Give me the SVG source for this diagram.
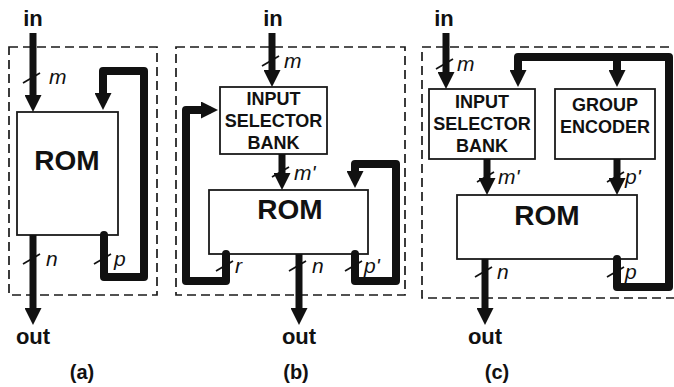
<svg xmlns="http://www.w3.org/2000/svg" width="674" height="387" viewBox="0 0 674 387">
  <style>
    .frame { fill: none; stroke: #1a1a1a; stroke-width: 1.7; stroke-dasharray: 9 5; }
    .box { fill: #ffffff; stroke: #1a1a1a; stroke-width: 1.8; }
    .bus { fill: none; stroke: #111111; stroke-width: 7; stroke-linejoin: round; }
    .loop { fill: none; stroke: #111111; stroke-width: 8; stroke-linejoin: round; stroke-linecap: round; }
    .tick { stroke: #111111; stroke-width: 1.7; }
    .title { font-family: "Liberation Sans", Arial, sans-serif; font-weight: bold; font-size: 28px; fill: #111111; text-anchor: middle; }
    .blk { font-family: "Liberation Sans", Arial, sans-serif; font-weight: bold; font-size: 18px; fill: #111111; text-anchor: middle; }
    .io { font-family: "Liberation Sans", Arial, sans-serif; font-weight: bold; font-size: 22px; fill: #111111; text-anchor: middle; }
    .cap { font-family: "Liberation Sans", Arial, sans-serif; font-weight: bold; font-size: 20px; fill: #111111; text-anchor: middle; }
    .w { font-family: "Liberation Sans", Arial, sans-serif; font-style: italic; font-size: 21px; fill: #111111; }
  </style>
  <defs>
    <marker id="head" viewBox="0 0 17 17" refX="7" refY="8.5" markerWidth="17" markerHeight="17" markerUnits="userSpaceOnUse" orient="auto">
      <path d="M0,0 L17,8.5 L0,17 Z" fill="#111111"/>
    </marker>
    <line id="slash" class="tick" x1="-10" y1="5" x2="7" y2="-5"/>
  </defs>

  <!-- panel (a) -->
  <g id="frame-a"><rect class="frame" x="9" y="47" width="148" height="248"/></g>
  <g id="rom-a">
    <rect class="box" x="17" y="112" width="101" height="123"/>
    <text class="title" x="67" y="170">ROM</text>
  </g>
  <g id="in-a"><text class="io" x="33" y="26">in</text></g>
  <g id="out-a"><text class="io" x="33" y="344">out</text></g>
  <g id="caption-a"><text class="cap" x="82" y="379">(a)</text></g>

  <!-- panel (b) -->
  <g id="frame-b"><rect class="frame" x="176" y="47" width="229" height="248"/></g>
  <g id="selector-b">
    <rect class="box" x="220" y="87" width="107" height="67"/>
    <text class="blk" x="273.5" y="105">INPUT</text>
    <text class="blk" x="273.5" y="127">SELECTOR</text>
    <text class="blk" x="273.5" y="149">BANK</text>
  </g>
  <g id="rom-b">
    <rect class="box" x="209" y="190" width="159" height="64"/>
    <text class="title" x="290" y="219">ROM</text>
  </g>
  <g id="in-b"><text class="io" x="273" y="26">in</text></g>
  <g id="out-b"><text class="io" x="299" y="344">out</text></g>
  <g id="caption-b"><text class="cap" x="296" y="379">(b)</text></g>

  <!-- panel (c) -->
  <g id="frame-c"><rect class="frame" x="422" y="47" width="260" height="251"/></g>
  <g id="selector-c">
    <rect class="box" x="429" y="89" width="106" height="70"/>
    <text class="blk" x="482" y="108">INPUT</text>
    <text class="blk" x="482" y="130">SELECTOR</text>
    <text class="blk" x="482" y="152">BANK</text>
  </g>
  <g id="encoder-c">
    <rect class="box" x="555" y="89" width="100" height="70"/>
    <text class="blk" x="605" y="111">GROUP</text>
    <text class="blk" x="605" y="133">ENCODER</text>
  </g>
  <g id="rom-c">
    <rect class="box" x="457" y="195" width="180" height="64"/>
    <text class="title" x="547" y="225">ROM</text>
  </g>
  <g id="in-c"><text class="io" x="444" y="26">in</text></g>
  <g id="out-c"><text class="io" x="485" y="344">out</text></g>
  <g id="caption-c"><text class="cap" x="497" y="379">(c)</text></g>

  <!-- buses, feedback loops and width ticks -->
  <g id="connectors">
    <!-- (a) -->
    <path class="bus" d="M33,33 V102" marker-end="url(#head)"/>
    <path class="bus" d="M33,235 V315" marker-end="url(#head)"/>
    <path class="loop" d="M104,235 V277 H144 V71 H103 V100" marker-end="url(#head)"/>
    <use href="#slash" x="33" y="78"/>
    <use href="#slash" x="33" y="259"/>
    <use href="#slash" x="104" y="259"/>
    <text class="w" x="49" y="84">m</text>
    <text class="w" x="46" y="266">n</text>
    <text class="w" x="114" y="266">p</text>

    <!-- (b) -->
    <path class="bus" d="M272,33 V77" marker-end="url(#head)"/>
    <path class="bus" d="M282,154 V180" marker-end="url(#head)"/>
    <path class="bus" d="M299,254 V315" marker-end="url(#head)"/>
    <path class="loop" d="M226,254 V281 H186 V110 H208" marker-end="url(#head)"/>
    <path class="loop" d="M355,254 V281 H396 V164 H355 V178" marker-end="url(#head)"/>
    <use href="#slash" x="272" y="61"/>
    <use href="#slash" x="282" y="172"/>
    <use href="#slash" x="226" y="266"/>
    <use href="#slash" x="299" y="266"/>
    <use href="#slash" x="355" y="266"/>
    <text class="w" x="284" y="68">m</text>
    <text class="w" x="294" y="180">m'</text>
    <text class="w" x="235" y="273">r</text>
    <text class="w" x="312" y="273">n</text>
    <text class="w" x="364" y="273">p'</text>

    <!-- (c) -->
    <path class="bus" d="M446,33 V79" marker-end="url(#head)"/>
    <path class="bus" d="M487,159 V185" marker-end="url(#head)"/>
    <path class="bus" d="M617,159 V185" marker-end="url(#head)"/>
    <path class="bus" d="M485,259 V315" marker-end="url(#head)"/>
    <path class="loop" d="M617,259 V287 H669 V57 H518 V77" marker-end="url(#head)"/>
    <path class="loop" d="M617,57 V77" marker-end="url(#head)"/>
    <use href="#slash" x="446" y="64"/>
    <use href="#slash" x="487" y="177"/>
    <use href="#slash" x="617" y="177"/>
    <use href="#slash" x="485" y="272"/>
    <use href="#slash" x="617" y="272"/>
    <text class="w" x="457" y="71">m</text>
    <text class="w" x="498" y="184">m'</text>
    <text class="w" x="625" y="184">p'</text>
    <text class="w" x="497" y="279">n</text>
    <text class="w" x="625" y="279">p</text>
  </g>
</svg>
